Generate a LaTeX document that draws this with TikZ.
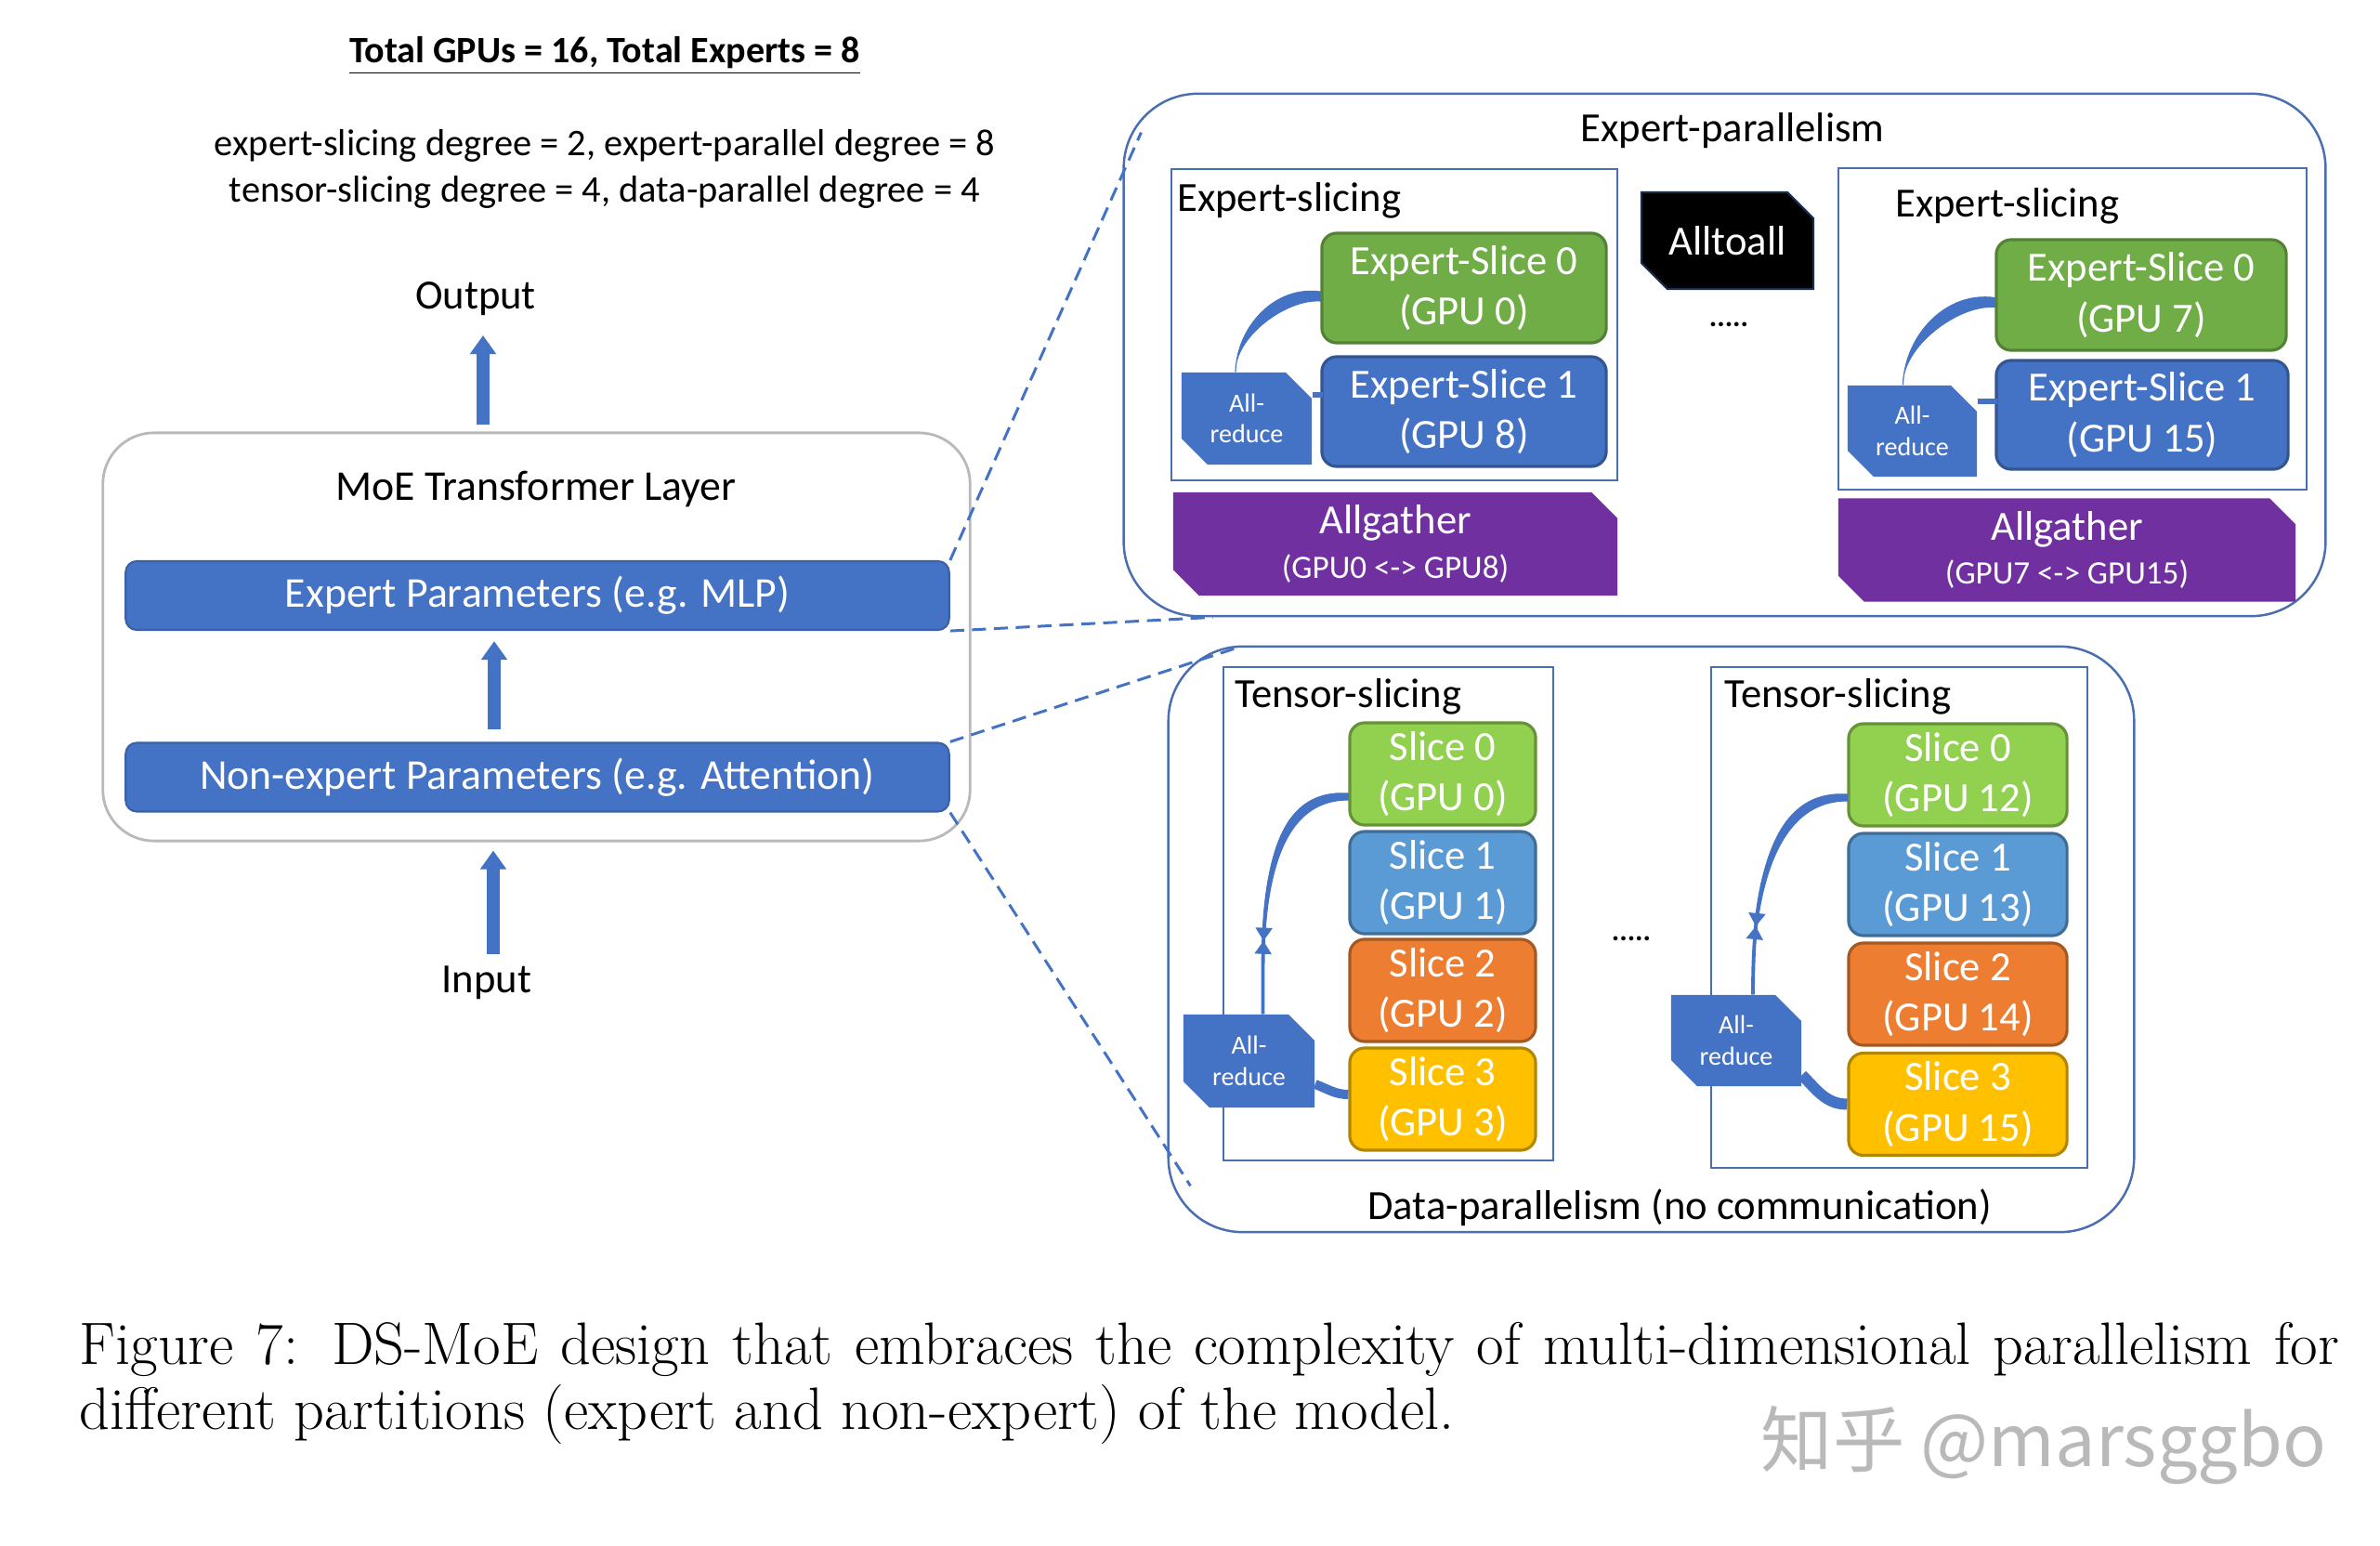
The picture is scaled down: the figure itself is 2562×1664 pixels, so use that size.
\documentclass[tikz,border=0pt]{standalone}
\usepackage{fontspec}
\newfontfamily\calib{Carlito}
\newfontfamily\wmfont{Noto Sans CJK SC}
\usetikzlibrary{arrows.meta,shapes.misc,decorations.markings}

\definecolor{msblue}{HTML}{4472C4}
\definecolor{msgreen}{HTML}{70AD47}
\definecolor{ltgreen}{HTML}{92D050}
\definecolor{ltblue}{HTML}{5B9BD5}
\definecolor{msorange}{HTML}{ED7D31}
\definecolor{msgold}{HTML}{FFC000}
\definecolor{mspurple}{HTML}{7030A0}
\definecolor{frameblue}{HTML}{4A6EB0}

\begin{document}
\begin{tikzpicture}[x=0.01cm, y=0.01cm, font=\calib\fontsize{12.7}{15.5}\selectfont,
    label/.style={inner sep=1pt},
    slab/.style={rounded corners=0.12cm, fill=msblue, draw=msblue!85!black, line width=0.6pt,
        text=white, font=\calib\fontsize{13}{15}\selectfont, minimum width=8.86cm, minimum height=0.74cm},
    part/.style={rounded corners=0.16cm, line width=0.9pt, text=white, align=center, inner sep=0pt},
    snip/.style={chamfered rectangle, chamfered rectangle corners={north east,south west},
        chamfered rectangle xsep=0.14cm, chamfered rectangle ysep=0.14cm, inner sep=0pt,
        text=white, align=center},
    reducer/.style={snip, fill=msblue, font=\calib\fontsize{8}{9.5}\selectfont},
    frame/.style={draw=frameblue, line width=0.7pt},
    dashline/.style={draw=msblue, line width=0.85pt, dash pattern=on 4.3pt off 2.4pt},
    bigarrow/.style={draw=msblue, line width=0.14cm, -{Triangle[width=0.27cm,length=0.2cm]}},
    crescent/.style={fill=msblue, draw=msblue, line width=0.3pt},
    tie/.style={postaction={decorate}, decoration={markings,
        mark=at position 0.72 with {\arrow{Triangle[width=5pt,length=4pt]}},
        mark=at position 0.72 with {\arrowreversed{Triangle[width=5pt,length=4pt]}}}}]

    \path[use as bounding box, fill=white] (0,0) rectangle (2562,-1664);

    % left: the transformer layer
    \node[label, font=\calib\bfseries\fontsize{11.4}{14}\selectfont] (title) at (651,-60) {\underline{Total GPUs = 16, Total Experts = 8}};
    \node[label, align=center, font=\calib\fontsize{11.5}{14.2}\selectfont] (degrees) at (651,-182)
        {expert-slicing degree = 2, expert-parallel degree = 8\\tensor-slicing degree = 4, data-parallel degree = 4};
    \node[label] (outlbl) at (512,-322) {Output};
    \node[rounded corners=0.55cm, draw=gray!55, line width=0.8pt, minimum width=9.33cm, minimum height=4.39cm] (moe) at (577.5,-685.5) {};
    \node[label, font=\calib\fontsize{13}{15}\selectfont] (moelbl) at (577,-527) {MoE Transformer Layer};
    \node[slab] (exp) at (578.5,-641) {Expert Parameters (e.g. MLP)};
    \node[slab] (nonexp) at (578.5,-836.5) {Non-expert Parameters (e.g. Attention)};
    \node[label] (inlbl) at (524,-1058) {Input};

    \draw[bigarrow, shorten <=0.07cm, shorten >=0.08cm] (moe.north -| 520,0) -- (520,-353);
    \draw[bigarrow, shorten <=0.13cm, shorten >=0.11cm] (nonexp.north -| 532,0) -- (exp.south -| 532,0);
    \draw[bigarrow, shorten <=0.09cm, shorten >=0.09cm] (inlbl.north -| 531,0) -- (moe.south -| 531,0);

    % expert-parallelism
    \node[frame, rounded corners=0.8cm, minimum width=12.93cm, minimum height=5.62cm] (ep) at (1856.5,-382) {};
    \node[label] (eplbl) at (1865,-141) {Expert-parallelism};

    \node[frame, minimum width=4.8cm, minimum height=3.35cm] (esboxa) at (1501,-349.5) {};
    \node[label, anchor=west] (esla) at (1263,-216) {Expert-slicing};
    \node[part, fill=msgreen, draw=msgreen!75!black, minimum width=3.06cm, minimum height=1.18cm] (es0a) at (1576,-310) {Expert-Slice 0\\(GPU 0)};
    \node[part, fill=msblue, draw=msblue!75!black, minimum width=3.06cm, minimum height=1.18cm] (es1a) at (1576,-443) {Expert-Slice 1\\(GPU 8)};
    \node[reducer, minimum width=1.40cm, minimum height=0.99cm] (ara) at (1342,-450.5) {All-\\reduce};

    \node[snip, fill=black, draw=msblue!40!black, line width=0.6pt, minimum width=1.85cm, minimum height=1.04cm] (a2a) at (1859.5,-259) {Alltoall};
    \node[label, font=\calib\bfseries\fontsize{9}{10}\selectfont] (dotsa) at (1861,-349) {.....};

    \node[frame, minimum width=5.04cm, minimum height=3.46cm] (esboxb) at (2231,-354) {};
    \node[label, anchor=west] (eslb) at (2036,-222) {Expert-slicing};
    \node[part, fill=msgreen, draw=msgreen!75!black, minimum width=3.12cm, minimum height=1.19cm] (es0b) at (2305,-317.5) {Expert-Slice 0\\(GPU 7)};
    \node[part, fill=msblue, draw=msblue!75!black, minimum width=3.14cm, minimum height=1.17cm] (es1b) at (2306,-446.5) {Expert-Slice 1\\(GPU 15)};
    \node[reducer, minimum width=1.39cm, minimum height=0.98cm] (arb) at (2058.5,-464) {All-\\reduce};

    \node[snip, fill=mspurple, minimum width=4.78cm, minimum height=0.95cm] (aga) at (1502,-585.5)
        {Allgather\\[-2pt]{\fontsize{10}{11}\selectfont (GPU0 <-> GPU8)}};
    \node[snip, fill=mspurple, minimum width=4.92cm, minimum height=0.98cm] (agb) at (2225,-592)
        {Allgather\\[-2pt]{\fontsize{10}{11}\selectfont (GPU7 <-> GPU15)}};

    \fill[crescent] ([yshift=-0.04cm]es0a.west) to[out=172,in=88] ([xshift=-0.12cm]ara.north)
        to[out=92,in=176,looseness=0.8] ([yshift=-0.14cm]es0a.west) -- cycle;
    \fill[crescent] ([yshift=-0.03cm]es0b.west) to[out=172,in=88] ([xshift=-0.1cm]arb.north)
        to[out=92,in=176,looseness=0.8] ([yshift=-0.13cm]es0b.west) -- cycle;
    \draw[msblue, line width=0.06cm] (ara.east) ++(0,25) -- ++(11,0);
    \draw[msblue, line width=0.06cm] (arb.east) ++(0,32) -- ++(21,0);

    % data-parallelism with tensor-slicing
    \node[frame, rounded corners=0.8cm, minimum width=10.39cm, minimum height=6.30cm] (dp) at (1777.5,-1011) {};
    \node[label] (dplbl) at (1808,-1300) {Data-parallelism (no communication)};

    \node[frame, minimum width=3.55cm, minimum height=5.31cm] (tsboxa) at (1494.5,-983.5) {};
    \node[label, anchor=west] (tsla) at (1325,-750) {Tensor-slicing};
    \node[part, fill=ltgreen, draw=ltgreen!70!black, minimum width=2.0cm, minimum height=1.1cm] (ts0a) at (1553,-833) {Slice 0\\(GPU 0)};
    \node[part, fill=ltblue, draw=ltblue!70!black, minimum width=2.0cm, minimum height=1.1cm] (ts1a) at (1553,-950) {Slice 1\\(GPU 1)};
    \node[part, fill=msorange, draw=msorange!70!black, minimum width=2.0cm, minimum height=1.1cm] (ts2a) at (1553,-1066) {Slice 2\\(GPU 2)};
    \node[part, fill=msgold, draw=msgold!70!black, minimum width=2.0cm, minimum height=1.1cm] (ts3a) at (1553,-1183) {Slice 3\\(GPU 3)};
    \node[reducer, minimum width=1.41cm, minimum height=1.0cm] (tara) at (1344.5,-1142) {All-\\reduce};

    \node[label, font=\calib\bfseries\fontsize{9}{10}\selectfont] (dotsb) at (1756,-1010) {.....};

    \node[frame, minimum width=4.05cm, minimum height=5.39cm] (tsboxb) at (2044.5,-987.5) {};
    \node[label, anchor=west] (tslb) at (1852,-750) {Tensor-slicing};
    \node[part, fill=ltgreen, draw=ltgreen!70!black, minimum width=2.35cm, minimum height=1.1cm] (ts0b) at (2107.5,-834) {Slice 0\\(GPU 12)};
    \node[part, fill=ltblue, draw=ltblue!70!black, minimum width=2.35cm, minimum height=1.1cm] (ts1b) at (2107.5,-952) {Slice 1\\(GPU 13)};
    \node[part, fill=msorange, draw=msorange!70!black, minimum width=2.35cm, minimum height=1.1cm] (ts2b) at (2107.5,-1070) {Slice 2\\(GPU 14)};
    \node[part, fill=msgold, draw=msgold!70!black, minimum width=2.35cm, minimum height=1.1cm] (ts3b) at (2107.5,-1188.5) {Slice 3\\(GPU 15)};
    \node[reducer, minimum width=1.40cm, minimum height=0.98cm] (tarb) at (1869,-1120) {All-\\reduce};

    \fill[crescent] ([yshift=-0.21cm]ts0a.west) to[out=176,in=90] ([xshift=0.15cm]tara.north)
        to[out=90,in=180,looseness=0.95] ([yshift=-0.28cm]ts0a.west) -- cycle;
    \draw[msblue, line width=1.1pt, tie] ([yshift=-0.25cm]ts0a.west) to[out=178,in=90] ([xshift=0.15cm]tara.north);
    \fill[crescent] ([yshift=-0.21cm]ts0b.west) to[out=176,in=90] ([xshift=0.18cm]tarb.north)
        to[out=90,in=180,looseness=0.95] ([yshift=-0.28cm]ts0b.west) -- cycle;
    \draw[msblue, line width=1.1pt, tie] ([yshift=-0.25cm]ts0b.west) to[out=178,in=90] ([xshift=0.18cm]tarb.north);
    \draw[msblue, line width=0.1cm] ([yshift=-0.25cm]tara.east) to[out=-20,in=180] ([yshift=0.05cm]ts3a.west);
    \draw[msblue, line width=0.12cm] ([yshift=-0.37cm]tarb.east) to[out=-45,in=180] (ts3b.west);

    % zoom-in connectors
    \draw[dashline] (exp.north east) -- ([xshift=0.2cm,yshift=-0.43cm]ep.north west);
    \draw[dashline] (exp.south east) -- ([xshift=0.97cm]ep.south west);
    \draw[dashline] (nonexp.north east) -- ([xshift=0.74cm,yshift=-0.03cm]dp.north west);
    \draw[dashline] (nonexp.south east) -- ([xshift=0.25cm,yshift=0.51cm]dp.south west);

    % caption
    \node[anchor=base west, inner sep=0pt, font=\rmfamily\fontsize{18.3}{22}\selectfont] (cap1) at (85,-1468)
        {\makebox[24.31cm][s]{Figure 7: DS-MoE design that embraces the complexity of multi-dimensional parallelism for}};
    \node[anchor=base west, inner sep=0pt, font=\rmfamily\fontsize{18.3}{22}\selectfont] (cap2) at (85,-1538)
        {different partitions (expert and non-expert) of the model.};
    \node[anchor=base west, inner sep=0pt, text=gray!55, font=\wmfont\fontsize{22}{24}\selectfont] (wm) at (1895,-1578) {知乎 @marsggbo};
\end{tikzpicture}
\end{document}
